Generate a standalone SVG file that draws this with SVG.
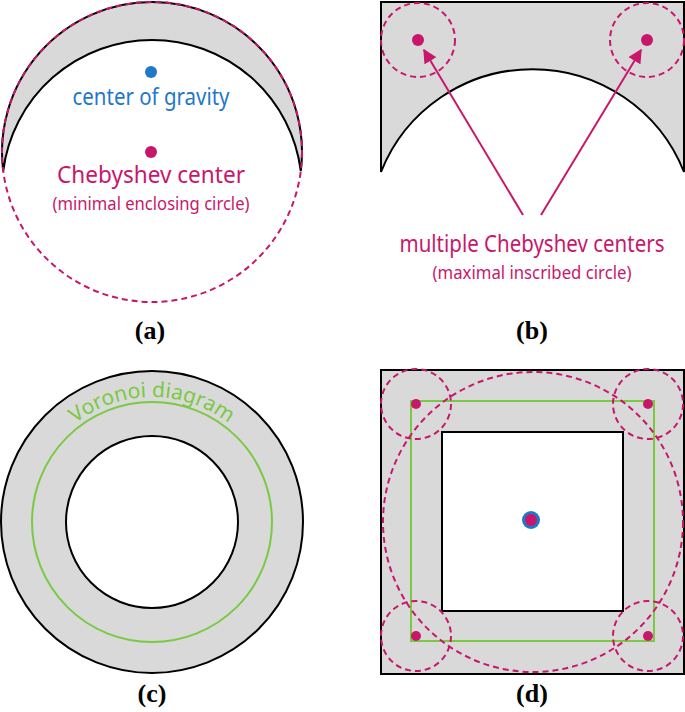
<svg xmlns="http://www.w3.org/2000/svg" width="685" height="712" viewBox="0 0 685 712">
<style>
.g{fill:#d9d9d9;stroke:#000;stroke-width:2}
.w{fill:#fff;stroke:#000;stroke-width:2}
.d{fill:none;stroke:#c8176b;stroke-width:2;stroke-dasharray:6,4}
.m{fill:#c8176b}
.gr{fill:none;stroke:#7ac943;stroke-width:2}
.t{font-family:"Noto Sans",sans-serif;text-anchor:middle}
.lab{font-family:"Liberation Serif",serif;font-weight:bold;font-size:26px;text-anchor:middle}
</style>
<defs>
<marker id="ah" viewBox="0 0 10 10" refX="9" refY="5" markerWidth="7" markerHeight="7" orient="auto"><path d="M0,0L10,5L0,10z" fill="#c8176b"/></marker>
</defs>
<g id="a">
<path class="g" d="M3.2,171 A150,150 0 1 1 300.8,171 A150,150 0 0 0 3.2,171 Z"/>
<circle class="d" cx="152" cy="152" r="150"/>
<circle cx="151" cy="72" r="6" fill="#1f78c8"/>
<circle class="m" cx="151" cy="152" r="6"/>
<text class="t" x="151" y="105" font-size="23" fill="#1f78c8" textLength="157" lengthAdjust="spacingAndGlyphs">center of gravity</text>
<text class="t" x="151" y="183" font-size="23" fill="#c8176b" textLength="188" lengthAdjust="spacingAndGlyphs">Chebyshev center</text>
<text class="t" x="151" y="210" font-size="18" fill="#c8176b" textLength="197" lengthAdjust="spacingAndGlyphs">(minimal enclosing circle)</text>
<text class="lab" x="150" y="339">(a)</text>
</g>
<g id="b">
<path class="g" d="M381,172 L381,2 L684,2 L684,172 A163,163 0 0 0 381,172 Z"/>
<circle class="d" cx="418" cy="40" r="37"/>
<circle class="d" cx="647" cy="40" r="37"/>
<circle class="m" cx="418" cy="40" r="6"/>
<circle class="m" cx="647" cy="40" r="6"/>
<text class="t" x="532" y="252" font-size="23" fill="#c8176b" textLength="265" lengthAdjust="spacingAndGlyphs">multiple Chebyshev centers</text>
<text class="t" x="532" y="279" font-size="18" fill="#c8176b" textLength="199" lengthAdjust="spacingAndGlyphs">(maximal inscribed circle)</text>
<text class="lab" x="532" y="339">(b)</text>
</g>
<g id="connectors">
<line x1="523" y1="215" x2="424" y2="50" stroke="#c8176b" stroke-width="2" marker-end="url(#ah)"/>
<line x1="541" y1="215" x2="641" y2="50" stroke="#c8176b" stroke-width="2" marker-end="url(#ah)"/>
</g>
<g id="c">
<circle class="g" cx="152" cy="522" r="151"/>
<circle class="w" cx="152" cy="522" r="86"/>
<circle class="gr" cx="152" cy="522" r="120"/>
<path id="arcv" d="M27,522 A125,125 0 0 1 277,522" fill="none"/>
<text font-family="Noto Sans,sans-serif" font-size="21" fill="#7ac943" text-anchor="middle"><textPath href="#arcv" startOffset="50%">Voronoi diagram</textPath></text>
<text class="lab" x="152" y="702">(c)</text>
</g>
<g id="d">
<rect class="g" x="381" y="370" width="303" height="304"/>
<rect class="w" x="442" y="432" width="181" height="179"/>
<rect class="gr" x="411" y="401" width="243" height="240"/>
<circle class="d" cx="533" cy="522" r="150"/>
<circle class="d" cx="416" cy="404" r="35"/>
<circle class="d" cx="648" cy="404" r="35"/>
<circle class="d" cx="416" cy="636" r="35"/>
<circle class="d" cx="648" cy="636" r="35"/>
<circle class="m" cx="416" cy="404" r="5"/>
<circle class="m" cx="648" cy="404" r="5"/>
<circle class="m" cx="416" cy="636" r="5"/>
<circle class="m" cx="648" cy="636" r="5"/>
<circle cx="531" cy="520" r="9" fill="#1f78c8"/>
<circle class="m" cx="531" cy="520" r="6"/>
<text class="lab" x="532" y="702">(d)</text>
</g>
</svg>
